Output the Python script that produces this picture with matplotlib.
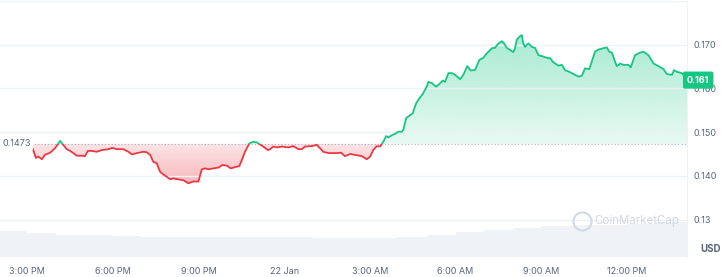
import numpy as np
import matplotlib.pyplot as plt
from matplotlib.colors import to_rgb
from matplotlib.path import Path
from matplotlib.patches import Rectangle
from matplotlib.lines import Line2D
import matplotlib.transforms as mtransforms

plt.rcParams['font.family'] = ['Inter', 'DejaVu Sans']

# data: hours after 21 Jan 3:00 PM, price in USD
hours = [0.14, 0.22, 0.31, 0.40, 0.52, 0.63, 0.81, 0.98, 1.16, 1.27, 1.39, 1.51, 1.62, 1.74,
         1.92, 2.03, 2.13, 2.27, 2.44, 2.62, 2.85, 2.99, 3.14, 3.37, 3.55, 3.67, 3.84, 4.07,
         4.19, 4.31, 4.42, 4.54, 4.66, 4.77, 4.89, 5.01, 5.12, 5.30, 5.47, 5.65, 5.82, 6.00,
         6.12, 6.23, 6.35, 6.52, 6.70, 6.85, 7.01, 7.13, 7.28, 7.43, 7.52, 7.63, 7.78, 7.92,
         8.06, 8.10, 8.27, 8.43, 8.51, 8.62, 8.74, 8.92, 9.15, 9.32, 9.50, 9.62, 9.73, 9.97,
         10.14, 10.26, 10.37, 10.55, 10.84, 10.99, 11.13, 11.31, 11.48, 11.72, 11.89, 12.01,
         12.12, 12.24, 12.36, 12.47, 12.57, 12.65, 12.77, 12.88, 13.00, 13.12, 13.17, 13.27,
         13.41, 13.50, 13.62, 13.73, 13.85, 13.99, 14.05, 14.17, 14.32, 14.43, 14.55, 14.63,
         14.75, 14.87, 14.98, 15.16, 15.27, 15.41, 15.53, 15.68, 15.83, 15.97, 16.09, 16.27,
         16.38, 16.50, 16.62, 16.70, 16.79, 16.91, 17.02, 17.08, 17.14, 17.23, 17.32, 17.37,
         17.43, 17.55, 17.67, 17.78, 17.90, 18.07, 18.19, 18.31, 18.42, 18.60, 18.72, 18.83,
         19.01, 19.18, 19.30, 19.42, 19.53, 19.68, 19.88, 20.00, 20.17, 20.29, 20.38, 20.47,
         20.64, 20.76, 20.87, 21.05, 21.13, 21.28, 21.46, 21.58, 21.75, 21.93, 22.10, 22.28,
         22.39, 22.57, 22.65, 22.74, 22.92, 23.03, 23.10]
prices = [0.1471, 0.1459, 0.1441, 0.1444, 0.1438, 0.1448, 0.1453, 0.1463, 0.1480, 0.1471,
          0.1461, 0.1457, 0.1452, 0.1446, 0.1446, 0.1445, 0.1457, 0.1457, 0.1455, 0.1459,
          0.1461, 0.1464, 0.1461, 0.1461, 0.1455, 0.1449, 0.1452, 0.1455,
          0.1454, 0.1448, 0.1432, 0.1429, 0.1409, 0.1403, 0.1398, 0.1392, 0.1394, 0.1392,
          0.1390, 0.1383, 0.1387, 0.1387, 0.1415, 0.1417, 0.1415, 0.1417, 0.1419, 0.1425,
          0.1423, 0.1417, 0.1420, 0.1422, 0.1436, 0.1455, 0.1474, 0.1478,
          0.1476, 0.1474, 0.1467, 0.1459, 0.1461, 0.1467, 0.1465, 0.1467, 0.1465, 0.1468,
          0.1461, 0.1461, 0.1467, 0.1468, 0.1471, 0.1463, 0.1455, 0.1452, 0.1452, 0.1453,
          0.1445, 0.1450, 0.1448, 0.1445, 0.1438, 0.1444, 0.1459, 0.1468, 0.1467,
          0.1478, 0.1491, 0.1488, 0.1493, 0.1496, 0.1501, 0.1501, 0.1505, 0.1532, 0.1539,
          0.1543, 0.1566, 0.1577, 0.1587, 0.1604, 0.1615, 0.1612, 0.1604, 0.1610, 0.1618,
          0.1615, 0.1635, 0.1635, 0.1631, 0.1621, 0.1631, 0.1651, 0.1641, 0.1642, 0.1665,
          0.1670, 0.1680, 0.1692, 0.1693, 0.1703, 0.1708, 0.1703, 0.1693, 0.1688, 0.1683,
          0.1692, 0.1711, 0.1718, 0.1722, 0.1703, 0.1695, 0.1703, 0.1695, 0.1693, 0.1676,
          0.1673, 0.1670, 0.1669, 0.1660, 0.1652, 0.1654, 0.1642, 0.1637, 0.1631, 0.1627,
          0.1629, 0.1646, 0.1644, 0.1684, 0.1689, 0.1692, 0.1694, 0.1684, 0.1682, 0.1651,
          0.1657, 0.1654, 0.1654, 0.1648, 0.1676, 0.1682, 0.1684, 0.1676, 0.1657, 0.1651,
          0.1644, 0.1633, 0.1631, 0.1642, 0.1638, 0.1635, 0.1627, 0.1619]
vol_hours = list(range(-1, 24))
volume = [26.3, 24.5, 22.2, 21.8, 21.4, 20.5, 20.3, 20.3, 20.3, 20.3, 20.3, 19.4, 19.3,
          19.5, 20.6, 22.5, 25.3, 27.6, 29.5, 31.0, 31.8, 32.5, 33.6, 34.8, 35.3]
open_price = 0.1473
last_label = '0.161'
xtick_pos = [0, 3, 6, 9, 12, 15, 18, 21]
xtick_lbl = ['3:00 PM', '6:00 PM', '9:00 PM', '22 Jan', '3:00 AM', '6:00 AM', '9:00 AM', '12:00 PM']
ytick_pos = [0.13, 0.14, 0.15, 0.16, 0.17, 0.18]
ytick_lbl = ['0.13', '0.140', '0.150', '0.160', '0.170', '']

GREEN = '#16c784'
RED = '#ea3943'
GREY = '#58667e'

t = np.array(hours)
p = np.array(prices)
x0, x1 = -0.945, 23.10
y0, y1 = 0.12136, 0.180

fig = plt.figure(figsize=(7.24, 2.77), dpi=100)
ax = fig.add_axes([0, 0.0711, 0.9489, 0.9253])
axv = ax.twinx()
ax.set_zorder(axv.get_zorder() + 1)
ax.patch.set_visible(False)

# volume
axv.bar(vol_hours, volume, width=1.0, align='edge', color='#eff2f6', linewidth=0)
axv.set_ylim(0, 256)
axv.set_yticks([])
for s in axv.spines.values():
    s.set_visible(False)


def gradient_fill(ya, yb, where, color, a_top, a_bot, top, bot):
    coll = ax.fill_between(t, ya, yb, where=where, interpolate=True,
                           facecolor='none', edgecolor='none')
    path = Path.make_compound_path(*coll.get_paths())
    img = np.zeros((256, 1, 4))
    img[..., :3] = to_rgb(color)
    img[:, 0, 3] = np.linspace(a_top, a_bot, 256)
    im = ax.imshow(img, extent=[x0, x1, bot, top], aspect='auto', origin='upper', zorder=1)
    im.set_clip_path(path, ax.transData)


gradient_fill(p, open_price, p >= open_price, GREEN, 0.38, 0.10, 0.1725, open_price)
gradient_fill(p, open_price, p <= open_price, RED, 0.13, 0.36, open_price, 0.1383)

# line, coloured by side of the open price
above = Rectangle((x0, open_price), x1 - x0, 1, transform=ax.transData)
below = Rectangle((x0, 0), x1 - x0, open_price, transform=ax.transData)
lg, = ax.plot(t, p, color=GREEN, lw=1.3, zorder=3)
lg.set_clip_path(above)
lr, = ax.plot(t, p, color=RED, lw=1.3, zorder=3)
lr.set_clip_path(below)

ax.plot([t[0], x1], [open_price, open_price], color='#a6b0c3', lw=0.8,
        linestyle=(0, (1, 2)), zorder=2)
ax.text(0.004, open_price, f'{open_price}', transform=mtransforms.blended_transform_factory(ax.transAxes, ax.transData),
        ha='left', va='center', fontsize=6.5, color=GREY, zorder=4,
        bbox=dict(boxstyle='square,pad=0.15', fc='white', ec='none'))

ax.set_xlim(x0, x1)
ax.set_ylim(y0, y1)
ax.set_xticks(xtick_pos, xtick_lbl)
ax.set_yticks(ytick_pos, ytick_lbl)
ax.yaxis.tick_right()
ax.tick_params(axis='both', length=0, labelsize=6.5, colors=GREY)
ax.tick_params(axis='x', pad=7)
ax.tick_params(axis='y', pad=5)
ax.grid(axis='y', color='#eff2f5', lw=1)
for k, s in ax.spines.items():
    s.set_visible(k == 'right')
ax.spines['right'].set_color('#eff2f5')

# last price badge
ax.text(1.0, p[-1], last_label, transform=mtransforms.blended_transform_factory(ax.transAxes, ax.transData),
        ha='left', va='center', fontsize=6.5, color='white', fontweight='bold', zorder=5,
        bbox=dict(boxstyle='round,pad=0.45,rounding_size=0.2', fc=GREEN, ec='none'), clip_on=False)

fig.text(0.967, 0.1, 'USD', fontsize=7, fontweight='bold', color=GREY, ha='left', va='center')

# watermark
fig.add_artist(Line2D([582 / 724], [1 - 221 / 277], marker='o', markersize=13,
                      mfc='none', mec='#d3d9e2', mew=1.5, transform=fig.transFigure))
fig.text(594 / 724, 1 - 221 / 277, 'CoinMarketCap', fontsize=8.3, color='#d3d9e2',
         ha='left', va='center')

fig.savefig('out.png', dpi=100)
